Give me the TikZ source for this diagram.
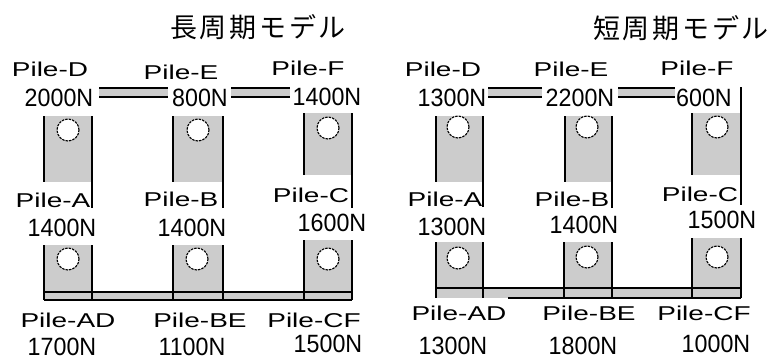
\documentclass[tikz,border=0pt]{standalone}
\usepackage{fontspec}
\setmainfont{Liberation Sans}
\newfontfamily\pilefont[FakeStretch=1.4]{Liberation Sans}
\newfontfamily\numfont[FakeStretch=0.93]{Liberation Sans}
\newfontfamily\cjkfont[LetterSpace=10]{Noto Sans CJK JP}
\definecolor{boxgray}{RGB}{204,204,204}
\newcommand{\ubox}[6]{%
  \fill[boxgray] (#1,#3) rectangle (#2,#4);
  \draw[edge] (#1,#3) -- (#1,#4);
  \draw[edge] (#2,#5) -- (#2,#6);}
\newcommand{\lbox}[4]{%
  \fill[boxgray] (#1,#3) rectangle (#2,#4);
  \draw[edge] (#1,#3) -- (#1,#4);
  \draw[edge] (#2,#3) -- (#2,#4);}
\newcommand{\dbl}[2]{%
  \fill[boxgray] (#1,88) rectangle (#2,97);
  \draw[edge] (#1,88) -- (#2,88);
  \draw[edge] (#1,97) -- (#2,97);}
\begin{document}
\begin{tikzpicture}[x=1pt,y=-1pt,
  pile/.style={font=\pilefont\fontsize{20}{20}\selectfont, inner sep=0pt, anchor=base},
  num/.style={font=\numfont\fontsize{25}{25}\selectfont, inner sep=0pt, anchor=base},
  ttl/.style={font=\cjkfont\fontsize{27}{27}\selectfont, inner sep=0pt},
  edge/.style={line width=1.4pt},
  hole/.style={circle, draw, fill=white, minimum size=22pt, inner sep=0pt,
    line width=1.1pt, dash pattern=on 2.5pt off 1pt}]
\useasboundingbox (0,0) rectangle (769,359);
\fill[white] (0,0) rectangle (769,359);

% ================= left panel =================
\node[ttl] (tL) at (258,27) {長周期モデル};
% upper double lines
\dbl{99}{168}
\dbl{231}{290}
% upper boxes
\ubox{44}{92}{116}{182}{116}{208}
\ubox{173}{223}{116}{182}{116}{208}
\ubox{304}{352}{113}{175}{113}{208}
% lower bar
\fill[boxgray] (44,292) rectangle (352,300);
\lbox{44}{92}{245}{300}
\lbox{173}{223}{245}{300}
\lbox{304}{352}{240}{300}
\draw[edge] (44,292) -- (352,292);
\draw[edge] (44,300) -- (352,300);
% holes
\node[hole] (hLD) at (68,130) {};
\node[hole] (hLE) at (198,130) {};
\node[hole] (hLF) at (328,128) {};
\node[hole] (hLA) at (68,259) {};
\node[hole] (hLB) at (197,259) {};
\node[hole] (hLC) at (328,259) {};
% labels
\node[pile] (pLD) at (50,76) {Pile-D};
\node[pile] (pLE) at (181,79) {Pile-E};
\node[pile] (pLF) at (308,75) {Pile-F};
\node[num] (nLD) at (59,106) {2000N};
\node[num] (nLE) at (200,106) {800N};
\node[num] (nLF) at (327,105) {1400N};
\node[pile] (pLA) at (53,207) {Pile-A};
\node[pile] (pLB) at (181,206) {Pile-B};
\node[pile] (pLC) at (311,202) {Pile-C};
\node[num] (nLA) at (62,236) {1400N};
\node[num] (nLB) at (192,236) {1400N};
\node[num] (nLC) at (332,231) {1600N};
\node[pile] (pLAD) at (68,327) {Pile-AD};
\node[pile] (pLBE) at (200,327) {Pile-BE};
\node[pile] (pLCF) at (314,327) {Pile-CF};
\node[num] (nLAD) at (62,355) {1700N};
\node[num] (nLBE) at (192,355) {1100N};
\node[num] (nLCF) at (328,352) {1500N};

% ================= right panel =================
\node[ttl] (tR) at (681,28) {短周期モデル};
\dbl{488}{542}
\dbl{618}{675}
\ubox{436}{483}{116}{182}{116}{207}
\ubox{565}{612}{116}{182}{116}{208}
\ubox{692}{741}{113}{175}{87}{205}
% lower bar
\fill[boxgray] (436,288) rectangle (741,298);
\lbox{436}{483}{242}{298}
\lbox{564}{612}{242}{298}
\lbox{692}{741}{238}{298}
\draw[edge] (436,288) -- (741,288);
\draw[edge] (508,298) -- (741,298);
% holes
\node[hole] (hRD) at (458,127) {};
\node[hole] (hRE) at (587,127) {};
\node[hole] (hRF) at (717,127) {};
\node[hole] (hRA) at (458,258) {};
\node[hole] (hRB) at (587,257) {};
\node[hole] (hRC) at (717,257) {};
% labels
\node[pile] (pRD) at (443,76) {Pile-D};
\node[pile] (pRE) at (571,76) {Pile-E};
\node[pile] (pRF) at (697,75) {Pile-F};
\node[num] (nRD) at (452,106) {1300N};
\node[num] (nRE) at (580,106) {2200N};
\node[num] (nRF) at (704,106) {600N};
\node[pile] (pRA) at (445,206) {Pile-A};
\node[pile] (pRB) at (572,206) {Pile-B};
\node[pile] (pRC) at (700,201) {Pile-C};
\node[num] (nRA) at (452,235) {1300N};
\node[num] (nRB) at (584,233) {1400N};
\node[num] (nRC) at (722,228) {1500N};
\node[pile] (pRAD) at (459,320) {Pile-AD};
\node[pile] (pRBE) at (589,320) {Pile-BE};
\node[pile] (pRCF) at (704,320) {Pile-CF};
\node[num] (nRAD) at (453,354) {1300N};
\node[num] (nRBE) at (583,354) {1800N};
\node[num] (nRCF) at (716,352) {1000N};
\end{tikzpicture}
\end{document}
